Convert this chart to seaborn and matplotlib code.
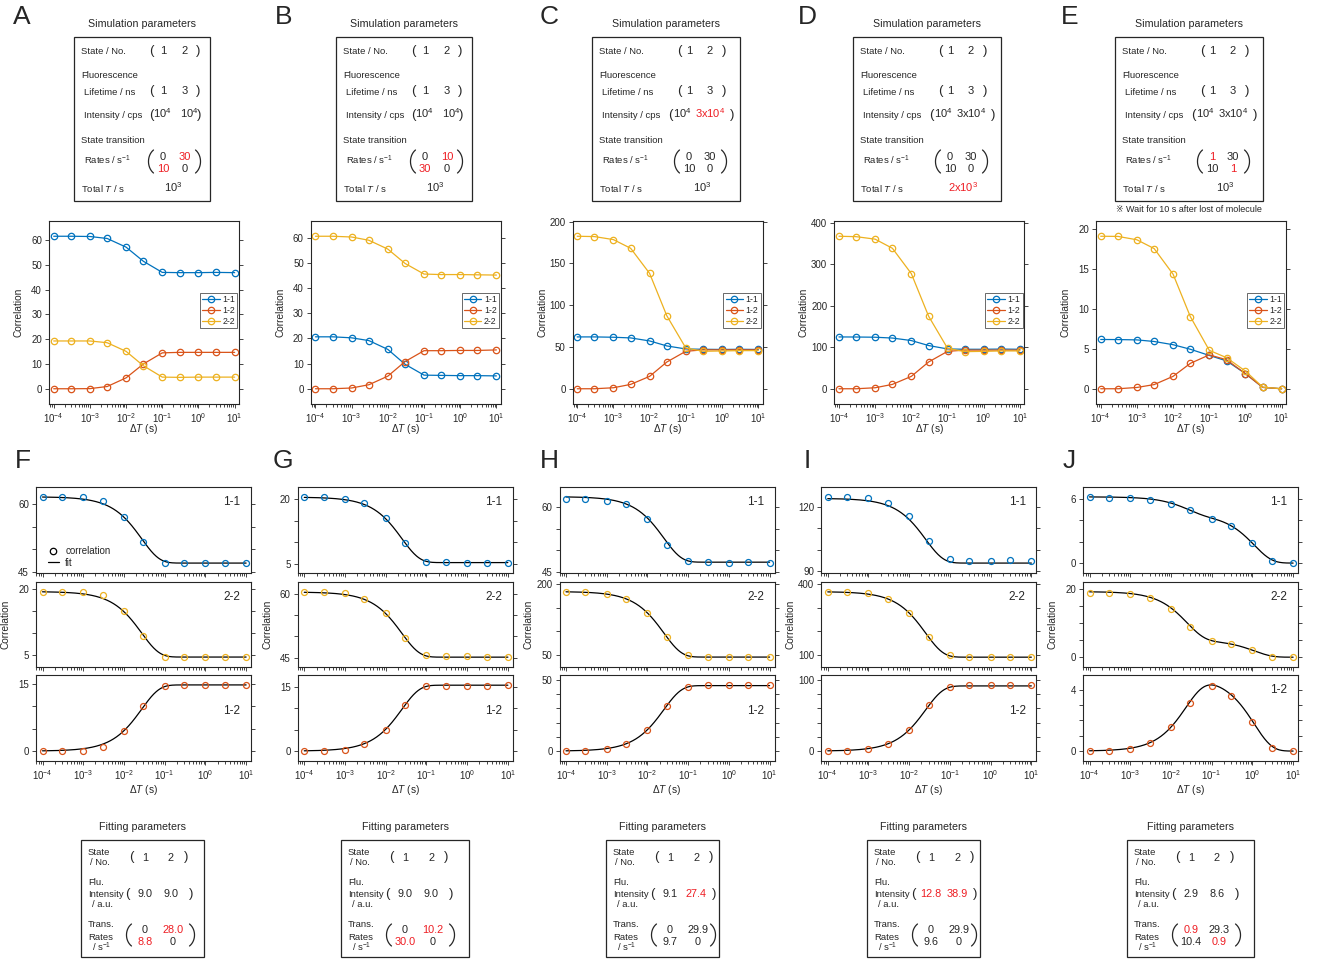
import numpy as np
import matplotlib
matplotlib.use("Agg")
import matplotlib.pyplot as plt
import seaborn as sns
from matplotlib.lines import Line2D
from matplotlib.patches import Rectangle
from matplotlib.ticker import LogLocator, NullFormatter, FixedLocator, FixedFormatter, MultipleLocator

sns.set_style("ticks")
plt.rcParams["font.family"] = ["Liberation Sans", "DejaVu Sans", "Noto Sans CJK JP"]
plt.rcParams["mathtext.fontset"] = "custom"
plt.rcParams["mathtext.rm"] = "Liberation Sans"
plt.rcParams["mathtext.it"] = "Liberation Sans:italic"
plt.rcParams["mathtext.sf"] = "Liberation Sans"

# ---------------- lag times (s) ----------------
lag_time = [1e-4, 3e-4, 1e-3, 3e-3, 1e-2, 3e-2, 1e-1, 3e-1, 1.0, 3.0, 10.0]

# ---------------- simulated correlations ----------------
corr_A_11 = [61.6, 61.6, 61.5, 60.7, 57.2, 51.5, 47.0, 46.9, 46.9, 47.0, 46.9]
corr_A_12 = [0.0, 0.0, 0.05, 0.9, 4.4, 10.0, 14.5, 14.7, 14.7, 14.7, 14.7]
corr_A_22 = [19.3, 19.3, 19.3, 18.6, 15.1, 9.3, 4.7, 4.6, 4.7, 4.7, 4.7]

corr_B_11 = [20.6, 20.6, 20.2, 19.1, 15.6, 9.7, 5.4, 5.3, 5.2, 5.2, 5.1]
corr_B_12 = [0.0, 0.0, 0.3, 1.6, 5.0, 10.8, 15.1, 15.1, 15.2, 15.2, 15.4]
corr_B_22 = [60.5, 60.5, 60.2, 58.9, 55.4, 49.7, 45.5, 45.3, 45.3, 45.2, 45.1]

corr_C_11 = [62.0, 62.0, 61.6, 60.8, 57.2, 51.2, 47.6, 47.2, 47.0, 47.2, 47.0]
corr_C_12 = [0.0, 0.0, 1.2, 5.2, 14.8, 32.0, 44.8, 46.5, 46.5, 46.6, 46.5]
corr_C_22 = [182.4, 182.0, 178.4, 168.0, 138.0, 87.2, 48.8, 44.8, 45.2, 45.6, 45.6]

corr_D_11 = [124.7, 124.5, 124.0, 122.0, 116.0, 104.0, 95.8, 95.0, 95.0, 95.5, 95.0]
corr_D_12 = [0.0, 0.0, 2.4, 10.5, 29.8, 64.4, 90.0, 93.0, 93.0, 93.0, 93.0]
corr_D_22 = [367.0, 366.0, 360.0, 338.0, 277.0, 174.6, 97.4, 89.3, 90.0, 91.0, 91.0]

corr_E_11 = [6.15, 6.14, 6.10, 5.90, 5.50, 4.93, 4.16, 3.48, 1.89, 0.17, 0.0]
corr_E_12 = [0.0, 0.0, 0.16, 0.52, 1.55, 3.17, 4.23, 3.62, 1.88, 0.17, 0.0]
corr_E_22 = [19.04, 19.02, 18.6, 17.5, 14.3, 9.0, 4.8, 3.88, 2.2, 0.2, 0.0]

# ---------------- simulation parameters (text) ----------------
sim_lifetime = ["1", "3"]
sim_intensity_A = [r"$10^4$", r"$10^4$"]
sim_intensity_B = [r"$10^4$", r"$10^4$"]
sim_intensity_C = [r"$10^4$", r"3x$10^4$"]
sim_intensity_D = [r"$10^4$", r"3x$10^4$"]
sim_intensity_E = [r"$10^4$", r"3x$10^4$"]
sim_rates_A = [["0", "30"], ["10", "0"]]
sim_rates_B = [["0", "10"], ["30", "0"]]
sim_rates_C = [["0", "30"], ["10", "0"]]
sim_rates_D = [["0", "30"], ["10", "0"]]
sim_rates_E = [["1", "30"], ["10", "1"]]
sim_total_A = r"$10^3$"
sim_total_B = r"$10^3$"
sim_total_C = r"$10^3$"
sim_total_D = r"2x$10^3$"
sim_total_E = r"$10^3$"
# highlighted entries: ("int", k) intensity, ("rate", i, j), ("total",)
sim_changed_A = [("rate", 0, 1), ("rate", 1, 0)]
sim_changed_B = [("rate", 0, 1), ("rate", 1, 0)]
sim_changed_C = [("int", 1)]
sim_changed_D = [("total",)]
sim_changed_E = [("rate", 0, 0), ("rate", 1, 1)]

# ---------------- fitting parameters ----------------
fit_intensity_F = [9.0, 9.0]
fit_intensity_G = [9.0, 9.0]
fit_intensity_H = [9.1, 27.4]
fit_intensity_I = [12.8, 38.9]
fit_intensity_J = [2.9, 8.6]
fit_rates_F = [[0.0, 28.0], [8.8, 0.0]]
fit_rates_G = [[0.0, 10.2], [30.0, 0.0]]
fit_rates_H = [[0.0, 29.9], [9.7, 0.0]]
fit_rates_I = [[0.0, 29.9], [9.6, 0.0]]
fit_rates_J = [[0.9, 29.3], [10.4, 0.9]]
fit_changed_F = [("rate", 0, 1), ("rate", 1, 0)]
fit_changed_G = [("rate", 0, 1), ("rate", 1, 0)]
fit_changed_H = [("int", 1)]
fit_changed_I = [("int", 0), ("int", 1)]
fit_changed_J = [("rate", 0, 0), ("rate", 1, 1)]

# y ticks of the stacked fit panels (first and last are labelled)
ticks_F = {"1-1": [45, 50, 55, 60], "2-2": [5, 10, 15, 20], "1-2": [0, 5, 10, 15]}
ticks_G = {"1-1": [5, 10, 15, 20], "2-2": [45, 50, 55, 60], "1-2": [0, 5, 10, 15]}
ticks_H = {"1-1": [45, 50, 55, 60], "2-2": [50, 100, 150, 200], "1-2": [0, 10, 20, 30, 40, 50]}
ticks_I = {"1-1": [90, 100, 110, 120], "2-2": [100, 200, 300, 400], "1-2": [0, 20, 40, 60, 80, 100]}
ticks_J = {"1-1": [0, 2, 4, 6], "2-2": [0, 5, 10, 15, 20], "1-2": [0, 1, 2, 3, 4]}
top_ystep = {"A": 10, "B": 10, "C": 50, "D": 100, "E": 5}

# ---------------- style ----------------
BLUE, ORANGE, YELLOW = "#0072BD", "#D95319", "#EDB120"
RED = "#EE1D23"
INK = "#262626"
FIG_W, FIG_H = 1317, 963
STEP = 261.75

fig = plt.figure(figsize=(FIG_W / 100, FIG_H / 100), dpi=100)


def px_axes(left, top, width, height):
    return fig.add_axes([left / FIG_W, 1 - (top + height) / FIG_H, width / FIG_W, height / FIG_H])


def put(x, y, s, size=7.0, ha="left", color=INK, shift=0.36, **kw):
    """Place text with its visual centre at pixel (x, y)."""
    base = y + shift * size * 100 / 72
    fig.text(x / FIG_W, 1 - base / FIG_H, s, fontsize=size, ha=ha, va="baseline", color=color, **kw)


def paren(x, y, s, size):
    put(x, y, s, size=size, ha="center", shift=0.26)


def big_paren(cx, cy, side, height=24.0, depth=5.0):
    """Thin tall bracket around a two-row matrix, drawn as a curve in pixel space."""
    t = np.linspace(-np.pi * 0.31, np.pi * 0.31, 40)
    a = depth / (1 - np.cos(t[0]))
    b = (height / 2) / np.sin(t[-1])
    xs = (a - a * np.cos(t)) - depth / 2
    xs = cx + xs if side == "(" else cx - xs
    ys = cy + b * np.sin(t)
    fig.add_artist(Line2D(xs / FIG_W, 1 - ys / FIG_H, transform=fig.transFigure, color=INK, lw=0.9))


def frame(x0, y0, x1, y1):
    fig.add_artist(Rectangle((x0 / FIG_W, 1 - y1 / FIG_H), (x1 - x0) / FIG_W, (y1 - y0) / FIG_H,
                             transform=fig.transFigure, fill=False, lw=0.9, ec=INK))


def style_axes(ax, xlim, show_xlabels=True):
    ax.set_xscale("log")
    ax.set_xlim(*xlim)
    ax.xaxis.set_major_locator(LogLocator(base=10, numticks=20))
    ax.xaxis.set_minor_locator(LogLocator(base=10, subs=np.arange(2, 10), numticks=20))
    ax.xaxis.set_minor_formatter(NullFormatter())
    ax.tick_params(axis="both", which="both", direction="out", colors=INK, labelsize=7, width=0.6, pad=2)
    ax.tick_params(axis="both", which="major", length=3)
    ax.tick_params(axis="both", which="minor", length=1.8)
    ax.tick_params(axis="y", which="both", left=True, right=True, labelright=False)
    ax.tick_params(axis="x", which="both", bottom=True, top=False, labelbottom=show_xlabels)
    for sp in ax.spines.values():
        sp.set_visible(True)
        sp.set_linewidth(0.8)
        sp.set_color(INK)


def correlation_model(intensity, rates, lag):
    """Two-state correlation G_ij(t) = I_i I_j p_i P(j, t | i, 0); diagonal rates = loss."""
    I = np.asarray(intensity, float)
    R = np.asarray(rates, float)
    gen = R - np.diag(np.diag(R))               # gen[i, j]: rate of j -> i
    gen -= np.diag(gen.sum(axis=0) + np.diag(R))
    occ = np.array([R[0, 1], R[1, 0]]) / (R[0, 1] + R[1, 0])
    w, V = np.linalg.eig(gen)
    Vinv = np.linalg.inv(V)
    prop = np.einsum("ik,tk,kj->tij", V, np.exp(np.outer(lag, w)), Vinv).real
    prop = np.transpose(prop, (0, 2, 1))        # [t, i, j] = P(j at t | i at 0)
    return I[None, :, None] * I[None, None, :] * occ[None, :, None] * prop


sim_sets = {
    "A": (corr_A_11, corr_A_12, corr_A_22, sim_intensity_A, sim_rates_A, sim_total_A, sim_changed_A),
    "B": (corr_B_11, corr_B_12, corr_B_22, sim_intensity_B, sim_rates_B, sim_total_B, sim_changed_B),
    "C": (corr_C_11, corr_C_12, corr_C_22, sim_intensity_C, sim_rates_C, sim_total_C, sim_changed_C),
    "D": (corr_D_11, corr_D_12, corr_D_22, sim_intensity_D, sim_rates_D, sim_total_D, sim_changed_D),
    "E": (corr_E_11, corr_E_12, corr_E_22, sim_intensity_E, sim_rates_E, sim_total_E, sim_changed_E),
}
fit_sets = {
    "F": ("A", fit_intensity_F, fit_rates_F, fit_changed_F, ticks_F),
    "G": ("B", fit_intensity_G, fit_rates_G, fit_changed_G, ticks_G),
    "H": ("C", fit_intensity_H, fit_rates_H, fit_changed_H, ticks_H),
    "I": ("D", fit_intensity_I, fit_rates_I, fit_changed_I, ticks_I),
    "J": ("E", fit_intensity_J, fit_rates_J, fit_changed_J, ticks_J),
}

# box layouts (pixel offsets from the box's left edge)
narrow = dict(width=136, par=(77, 124), col=(89, 111), ipar=(77, 125), icol=(88, 115), rpar=(77, 124), total=99)
wide = dict(width=148, par=(87, 132), col=(97, 118), ipar=(78, 140), icol=(90, 118), rpar=(85, 132), total=110)
sim_box = {"A": (74, narrow), "B": (336, narrow), "C": (592, wide), "D": (853, wide), "E": (1115, wide)}
fit_box = {"F": (81, 204), "G": (341, 469), "H": (606, 719), "I": (867, 980), "J": (1127, 1254)}
sim_letter_x = {"A": 13, "B": 275, "C": 540, "D": 798, "E": 1061}
fit_letter_x = {"F": 15, "G": 273, "H": 540, "I": 804, "J": 1063}

TOP_XLIM = (10 ** -4.13, 10 ** 1.12)
BOT_XLIM = (10 ** -4.16, 10 ** 1.12)
xlabel_text = r"$\Delta\mathit{T}$ (s)"

# ---------------- top row: simulation parameters and correlations ----------------
for c, key in enumerate("ABCDE"):
    c11, c12, c22, s_int, s_rates, s_total, changed = sim_sets[key]
    put(sim_letter_x[key], 15, key, size=19)

    bx, lay = sim_box[key]
    bx1 = bx + lay["width"]
    put((bx + bx1) / 2, 23, "Simulation parameters", size=7.7, ha="center")
    frame(bx, 37, bx1, 201)
    put(bx + 7, 51, "State / No.", size=6.8)
    paren(bx + lay["par"][0], 51, "(", 9.5)
    paren(bx + lay["par"][1], 51, ")", 9.5)
    put(bx + lay["col"][0], 50.5, "1", size=8, ha="center")
    put(bx + lay["col"][1], 50.5, "2", size=8, ha="center")
    put(bx + 7, 74.5, "Fluorescence", size=6.8)
    put(bx + 10, 91.5, "Lifetime / ns", size=6.8)
    paren(bx + lay["par"][0], 91, "(", 9.5)
    paren(bx + lay["par"][1], 91, ")", 9.5)
    put(bx + lay["col"][0], 90.5, sim_lifetime[0], size=8, ha="center")
    put(bx + lay["col"][1], 90.5, sim_lifetime[1], size=8, ha="center")
    put(bx + 10, 115, "Intensity / cps", size=6.8)
    paren(bx + lay["ipar"][0], 114.5, "(", 9.5)
    paren(bx + lay["ipar"][1], 114.5, ")", 9.5)
    for k in range(2):
        col = RED if ("int", k) in changed else INK
        put(bx + lay["icol"][k], 114.5, s_int[k], size=8, ha="center", color=col)
    put(bx + 7, 139.5, "State transition", size=6.8)
    put(bx + 10, 161, r"Rates / s$^{-1}$", size=6.8)
    big_paren(bx + lay["rpar"][0], 161.5, "(", height=23)
    big_paren(bx + lay["rpar"][1], 161.5, ")", height=23)
    for i, yy in enumerate((155.5, 167.5)):
        for j in range(2):
            col = RED if ("rate", i, j) in changed else INK
            put(bx + lay["col"][j], yy, s_rates[i][j], size=8, ha="center", color=col)
    put(bx + 7, 189, r"Total $\mathit{T}$ / s", size=6.8)
    put(bx + lay["total"], 187.5, s_total, size=8, ha="center",
        color=RED if ("total",) in changed else INK)
    if key == "E":
        put((bx + bx1) / 2, 208.5, "\u203b Wait for 10 s after lost of molecule", size=6.5, ha="center")

    ax = px_axes(49 + c * STEP, 221, 190, 183)
    for vals, name, color in ((c11, "1-1", BLUE), (c12, "1-2", ORANGE), (c22, "2-2", YELLOW)):
        sns.lineplot(x=lag_time, y=vals, ax=ax, color=color, lw=0.9, marker="o", markersize=4.6,
                     markerfacecolor="none", markeredgecolor=color, markeredgewidth=0.9, label=name)
    style_axes(ax, TOP_XLIM)
    allv = np.concatenate([c11, c12, c22])
    lo, hi = allv.min(), allv.max()
    ax.set_ylim(lo - 0.1 * (hi - lo), hi + 0.1 * (hi - lo))
    ax.yaxis.set_major_locator(MultipleLocator(top_ystep[key]))
    ax.set_ylabel("Correlation", fontsize=7.3, color=INK)
    ax.yaxis.set_label_coords(-25.5 / 190, 0.5)
    ax.set_xlabel(xlabel_text, fontsize=7.3, color=INK)
    ax.xaxis.set_label_coords(0.5, -25 / 183)
    ax.xaxis.label.set_verticalalignment("center")
    leg = ax.legend(loc="center right", bbox_to_anchor=(1.0, 0.51), fontsize=6.3, frameon=True,
                    fancybox=False, edgecolor=INK, handlelength=2.0, handletextpad=0.3,
                    labelspacing=0.2, borderpad=0.25, borderaxespad=0.2)
    leg.get_frame().set_linewidth(0.6)
    for t in leg.get_texts():
        t.set_color(INK)

# ---------------- bottom row: fits ----------------
fit_lag = np.logspace(-4, 1, 400)
row_tops = (487, 582, 675)
row_heights = (86, 85, 86)
pair_index = {"1-1": (0, 0), "2-2": (1, 1), "1-2": (0, 1)}
pair_color = {"1-1": BLUE, "2-2": YELLOW, "1-2": ORANGE}

for c, key in enumerate("FGHIJ"):
    src, f_int, f_rates, f_changed, f_ticks = fit_sets[key]
    c11, c12, c22 = sim_sets[src][:3]
    data = {"1-1": c11, "2-2": c22, "1-2": c12}
    model = correlation_model(f_int, f_rates, fit_lag)
    put(fit_letter_x[key], 458, key, size=19)

    left = 36 + c * STEP
    for r, name in enumerate(("1-1", "2-2", "1-2")):
        ax = px_axes(left, row_tops[r], 215, row_heights[r])
        i, j = pair_index[name]
        curve = model[:, i, j]
        vals = np.asarray(data[name])
        sns.lineplot(x=fit_lag, y=curve, ax=ax, color="black", lw=0.9)
        sns.lineplot(x=lag_time, y=vals, ax=ax, color=pair_color[name], linestyle="none", marker="o",
                     markersize=4.3, markerfacecolor="none", markeredgecolor=pair_color[name],
                     markeredgewidth=0.9, zorder=3)
        style_axes(ax, BOT_XLIM, show_xlabels=(r == 2))
        lo = min(vals.min(), curve.min())
        hi = max(vals.max(), curve.max())
        ax.set_ylim(lo - 0.15 * (hi - lo), hi + 0.15 * (hi - lo))
        tk = f_ticks[name]
        ax.yaxis.set_major_locator(FixedLocator(tk))
        ax.yaxis.set_major_formatter(FixedFormatter([str(tk[0])] + [""] * (len(tk) - 2) + [str(tk[-1])]))
        label_y = 1 - 36 / 86 if (name == "1-2" and key != "J") else 1 - 15 / row_heights[r]
        ax.text(1 - 19 / 215, label_y, name, transform=ax.transAxes, ha="center", va="center",
                fontsize=8.5, color=INK)
        if r == 1:
            ax.set_ylabel("Correlation", fontsize=7.3, color=INK)
            ax.yaxis.set_label_coords(-25.5 / 215, 0.5)
        if r == 2:
            ax.set_xlabel(xlabel_text, fontsize=7.3, color=INK)
            ax.xaxis.set_label_coords(0.5, -29 / 86)
            ax.xaxis.label.set_verticalalignment("center")
        if key == "F" and r == 0:
            handles = [Line2D([], [], ls="none", marker="o", mfc="none", mec="black", ms=4.6, mew=0.9),
                       Line2D([], [], color="black", lw=0.9)]
            lg = ax.legend(handles, ["correlation", "fit"], loc="lower left", bbox_to_anchor=(0.055, 0.06),
                           frameon=False, fontsize=7, handlelength=1.1, handletextpad=0.7,
                           labelspacing=0.15, borderpad=0, borderaxespad=0)
            for t in lg.get_texts():
                t.set_color(INK)
        elif ax.get_legend() is not None:
            ax.get_legend().remove()

    # fitting parameter box
    bx0, bx1 = fit_box[key]
    c1, c2 = bx0 + 64, bx0 + 90
    put((bx0 + bx1) / 2, 826, "Fitting parameters", size=7.7, ha="center")
    frame(bx0, 840, bx1, 957)
    put(bx0 + 7, 852, "State", size=6.8)
    put(bx0 + 9, 862, "/ No.", size=6.8)
    paren(c1 - 14, 857, "(", 9.5)
    paren(c2 + 15, 857, ")", 9.5)
    put(c1, 857, "1", size=7.8, ha="center")
    put(c2, 857, "2", size=7.8, ha="center")
    put(bx0 + 7, 882, "Flu.", size=6.8)
    put(bx0 + 7, 893.5, "Intensity", size=6.8)
    put(bx0 + 11, 903.5, "/ a.u.", size=6.8)
    paren(c1 - 18, 893.5, "(", 9.5)
    paren(min(c2 + 20, bx1 - 5), 893.5, ")", 9.5)
    for k in range(2):
        col = RED if ("int", k) in f_changed else INK
        put(c1 if k == 0 else c2, 893.5, f"{f_int[k]:.1f}", size=7.8, ha="center", color=col)
    put(bx0 + 7, 923.5, "Trans.", size=6.8)
    put(bx0 + 7, 936.5, "Rates", size=6.8)
    put(bx0 + 11, 947.5, r"/ s$^{-1}$", size=6.8)
    big_paren(c1 - 16, 935, "(", height=22)
    big_paren(min(c2 + 21, bx1 - 6), 935, ")", height=22)
    for i, yy in enumerate((929, 941)):
        for j in range(2):
            v = f_rates[i][j]
            txt = "0" if v == 0 else f"{v:.1f}"
            col = RED if ("rate", i, j) in f_changed else INK
            put(c1 if j == 0 else c2 + 2, yy, txt, size=7.8, ha="center", color=col)

fig.savefig("out.png", dpi=100)
